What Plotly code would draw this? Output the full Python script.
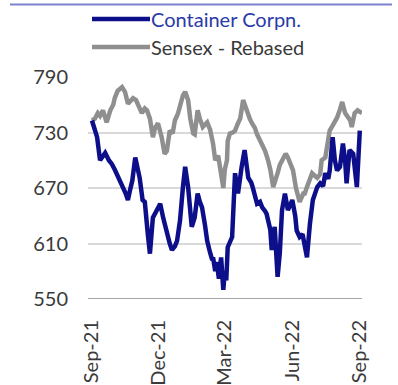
import pandas as pd
import plotly.graph_objects as go

start = pd.Timestamp("2021-09-01")

# Container Corpn. (day offset from 1-Sep-21, value)
cc_days = [0, 4, 7, 11, 15, 18, 23, 27, 31, 35, 40, 42, 46, 49, 52, 55, 59, 63, 65, 69,
           72, 76, 79, 83, 89, 93, 97, 102, 106, 109, 113, 116, 120, 124, 127, 131, 134, 136,
           140, 144, 147, 150, 154, 157, 161, 164, 165, 168, 170, 173, 176, 179, 181, 183,
           185, 191, 195, 199, 204, 208, 213, 217, 219, 225, 229, 232, 236, 238, 243, 245,
           249, 253, 256, 259, 263, 267, 273, 277, 279, 283, 287, 290, 293, 297, 301, 307,
           311, 315, 318, 322, 324, 328, 331, 334, 338, 342, 345, 347, 351, 356, 358, 361, 365]
cc_vals = [743, 733, 725, 700, 705, 708, 700, 696, 690, 684, 676, 671, 664, 657, 668, 678, 703, 689, 681, 657,
           655, 621, 599, 638, 648, 653, 638, 621, 610, 603, 607, 613, 635, 671, 693, 671, 645, 628,
           638, 664, 655, 649, 630, 613, 600, 592, 595, 580, 590, 572, 595, 560, 580, 570,
           606, 617, 686, 664, 693, 711, 681, 676, 671, 653, 655, 649, 645, 642, 625, 603,
           628, 574, 600, 646, 664, 646, 657, 640, 624, 617, 620, 610, 595, 631, 657, 671,
           675, 672, 686, 680, 689, 725, 700, 689, 693, 718, 700, 675, 711, 707, 690, 671, 732]

# Sensex - Rebased
sx_days = [0, 4, 8, 11, 15, 18, 20, 25, 29, 31, 35, 41, 45, 49, 53, 56, 60, 63, 68, 72,
           75, 79, 83, 86, 90, 95, 99, 102, 106, 110, 113, 117, 120, 124, 127, 131, 134, 138,
           140, 144, 147, 151, 157, 161, 165, 168, 172, 174, 177, 179, 181, 184, 185, 188,
           192, 195, 199, 202, 206, 208, 211, 215, 218, 222, 225, 229, 232, 236, 240, 243,
           247, 251, 253, 256, 260, 264, 267, 271, 274, 278, 281, 283, 288, 290, 293, 297,
           300, 304, 307, 311, 313, 318, 320, 324, 327, 331, 334, 338, 341, 345, 349, 352,
           354, 358, 362, 368]
sx_vals = [743, 745, 751, 748, 754, 746, 741, 754, 760, 767, 775, 779, 774, 761, 765, 767, 765, 760, 751, 756,
           754, 745, 725, 735, 740, 725, 707, 710, 732, 729, 743, 750, 761, 770, 774, 765, 745, 729,
           728, 754, 745, 736, 741, 733, 718, 700, 705, 695, 675, 670, 690, 700, 721, 729,
           730, 732, 740, 745, 765, 760, 751, 745, 740, 735, 728, 722, 718, 710, 700, 690,
           671, 680, 686, 695, 700, 707, 703, 695, 689, 670, 657, 655, 664, 664, 671, 680,
           686, 683, 681, 685, 700, 703, 714, 732, 736, 741, 746, 755, 763, 751, 746, 743,
           736, 751, 754, 751]

tick_dates = ["2021-09-01", "2021-12-01", "2022-03-01", "2022-06-01", "2022-09-01"]
tick_labels = ["Sep-21", "Dec-21", "Mar-22", "Jun-22", "Sep-22"]
y_ticks = [550, 610, 670, 730, 790]

cc_dates = start + pd.to_timedelta(cc_days, unit="D")
sx_dates = start + pd.to_timedelta(sx_days, unit="D")

BLUE = "#0d0f8a"
GRAY = "#8f8f8f"
FONT = "Lato"

fig = go.Figure()
fig.add_trace(go.Scatter(x=sx_dates, y=sx_vals, mode="lines", name="Sensex - Rebased",
                         line=dict(color=GRAY, width=4.5), showlegend=False))
fig.add_trace(go.Scatter(x=cc_dates, y=cc_vals, mode="lines", name="Container Corpn.",
                         line=dict(color=BLUE, width=4.5), showlegend=False))

W, H = 398, 385
L, R, T, B = 88, 36, 77, 86
pw, ph = W - L - R, H - T - B

def px(x):
    return (x - L) / pw

def py(y):
    return (H - B - y) / ph

# manual legend
fig.add_shape(type="line", xref="paper", yref="paper", x0=px(92), x1=px(150), y0=py(19), y1=py(19),
              line=dict(color=BLUE, width=4.5))
fig.add_shape(type="line", xref="paper", yref="paper", x0=px(92), x1=px(150), y0=py(47), y1=py(47),
              line=dict(color=GRAY, width=4.5))
fig.add_annotation(xref="paper", yref="paper", x=px(149), y=py(19), xanchor="left", yanchor="middle",
                   text="Container Corpn.", showarrow=False, font=dict(family=FONT, size=20, color="#2a3aa8"))
fig.add_annotation(xref="paper", yref="paper", x=px(149), y=py(47), xanchor="left", yanchor="middle",
                   text="Sensex - Rebased", showarrow=False, font=dict(family=FONT, size=20, color="#3a3a3a"))

# top rule (cut-off header)
fig.add_shape(type="line", xref="paper", yref="paper", x0=px(10), x1=px(392), y0=py(4.5), y1=py(4.5),
              line=dict(color="#7c82cf", width=2))

fig.update_layout(
    width=W, height=H,
    margin=dict(l=L, r=R, t=T, b=B),
    paper_bgcolor="white", plot_bgcolor="white",
    font=dict(family=FONT, size=20, color="#3a3a3a"),
    xaxis=dict(type="date", range=[start - pd.Timedelta(days=5.4), start + pd.Timedelta(days=368)],
               tickvals=tick_dates, ticktext=tick_labels, tickangle=-90, automargin=False,
               showgrid=False, zeroline=False, showline=False, ticks="",
               ticklabelstandoff=16, tickfont=dict(family=FONT, size=20, color="#3a3a3a")),
    yaxis=dict(range=[550, 790], tickvals=y_ticks, showgrid=True, gridcolor="#d9d9d9", gridwidth=1.5,
               automargin=False,
               zeroline=False, showline=False, ticks="", ticklabelstandoff=19,
               tickfont=dict(family=FONT, size=20, color="#3a3a3a")),
)
# bottom axis line drawn at the 550 level
fig.add_shape(type="line", xref="paper", yref="y", x0=0, x1=1, y0=550, y1=550,
              line=dict(color="#a6a6a6", width=2), layer="below")

fig.write_html("out.html")
